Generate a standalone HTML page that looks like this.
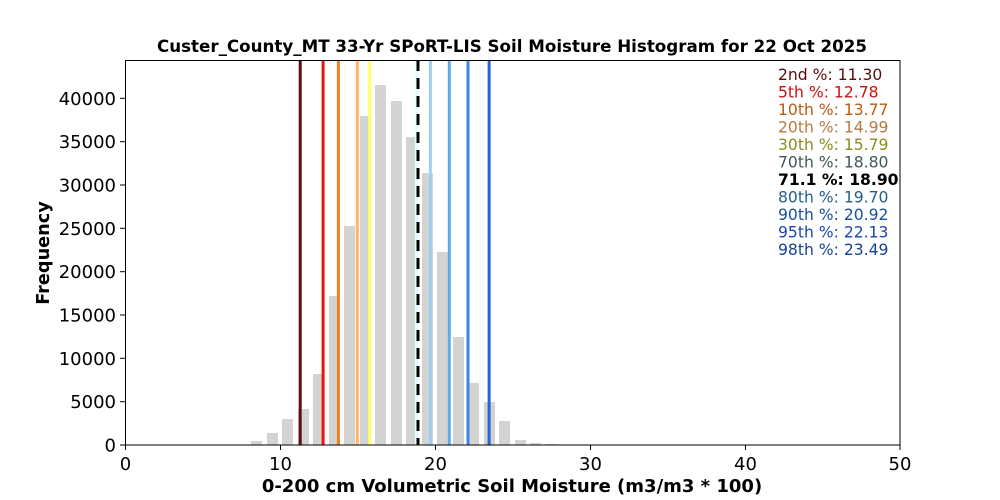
<!DOCTYPE html>
<html><head><meta charset="utf-8"><style>body{margin:0;background:#fff}svg{display:block}text{font-family:"DejaVu Sans","Liberation Sans",sans-serif}</style></head>
<body>
<svg width="1000" height="500" viewBox="0 0 1000 500" xmlns="http://www.w3.org/2000/svg">
<rect width="1000" height="500" fill="#fff"/>
<g fill="#d3d3d3">
<rect x="251" y="441" width="11" height="4"/>
<rect x="267" y="433" width="11" height="12"/>
<rect x="282" y="419" width="11" height="26"/>
<rect x="298" y="409" width="11" height="36"/>
<rect x="313" y="374" width="11" height="71"/>
<rect x="329" y="296" width="11" height="149"/>
<rect x="344" y="226" width="11" height="219"/>
<rect x="360" y="116" width="11" height="329"/>
<rect x="375" y="85" width="11" height="360"/>
<rect x="391" y="101" width="11" height="344"/>
<rect x="406" y="137" width="11" height="308"/>
<rect x="422" y="173" width="11" height="272"/>
<rect x="437" y="252" width="11" height="193"/>
<rect x="453" y="337" width="11" height="108"/>
<rect x="468" y="383" width="11" height="62"/>
<rect x="484" y="402" width="11" height="43"/>
<rect x="499" y="421" width="11" height="24"/>
<rect x="515" y="440" width="11" height="5"/>
<rect x="530" y="443" width="11" height="2"/>
<rect x="546" y="444" width="11" height="1"/>
</g>
<g stroke-width="3">
<line x1="300.2" y1="60" x2="300.2" y2="445" stroke="#5c0f0f"/>
<line x1="323.1" y1="60" x2="323.1" y2="445" stroke="#ee1111"/>
<line x1="338.4" y1="60" x2="338.4" y2="445" stroke="#f08020"/>
<line x1="357.3" y1="60" x2="357.3" y2="445" stroke="#ffb468"/>
<line x1="369.7" y1="60" x2="369.7" y2="445" stroke="#ffff66"/>
<line x1="416.4" y1="60" x2="416.4" y2="445" stroke="#e0ffff"/>
<line x1="430.4" y1="60" x2="430.4" y2="445" stroke="#a0d0f0"/>
<line x1="449.3" y1="60" x2="449.3" y2="445" stroke="#60aaf0"/>
<line x1="468.0" y1="60" x2="468.0" y2="445" stroke="#3a88e0"/>
<line x1="489.1" y1="60" x2="489.1" y2="445" stroke="#1e6ad0"/>
<line x1="418.0" y1="60" x2="418.0" y2="445" stroke="#000" stroke-dasharray="11,7"/>
</g>
<rect x="125.5" y="60.5" width="774.5" height="384.5" fill="none" stroke="#000" stroke-width="1"/>
<g stroke="#000" stroke-width="1">
<line x1="125.5" y1="445" x2="125.5" y2="450"/><line x1="280.5" y1="445" x2="280.5" y2="450"/><line x1="435.5" y1="445" x2="435.5" y2="450"/><line x1="590.5" y1="445" x2="590.5" y2="450"/><line x1="745.5" y1="445" x2="745.5" y2="450"/><line x1="900" y1="445" x2="900" y2="450"/>
<line x1="120" y1="445" x2="125" y2="445"/><line x1="120" y1="401.7" x2="125" y2="401.7"/><line x1="120" y1="358.3" x2="125" y2="358.3"/><line x1="120" y1="315" x2="125" y2="315"/><line x1="120" y1="271.7" x2="125" y2="271.7"/><line x1="120" y1="228.3" x2="125" y2="228.3"/><line x1="120" y1="185" x2="125" y2="185"/><line x1="120" y1="141.7" x2="125" y2="141.7"/><line x1="120" y1="98.3" x2="125" y2="98.3"/>
</g>
<g font-size="18" fill="#000" text-anchor="middle">
<text x="125.5" y="470">0</text><text x="280.5" y="470">10</text><text x="435.5" y="470">20</text><text x="590.5" y="470">30</text><text x="745.5" y="470">40</text><text x="900" y="470">50</text>
</g>
<g font-size="18" fill="#000" text-anchor="end">
<text x="116" y="451.5">0</text><text x="116" y="408.2">5000</text><text x="116" y="364.8">10000</text><text x="116" y="321.5">15000</text><text x="116" y="278.2">20000</text><text x="116" y="234.8">25000</text><text x="116" y="191.5">30000</text><text x="116" y="148.2">35000</text><text x="116" y="104.8">40000</text>
</g>
<text x="512" y="52" font-size="16.7" font-weight="bold" text-anchor="middle">Custer_County_MT 33-Yr SPoRT-LIS Soil Moisture Histogram for 22 Oct 2025</text>
<text x="512" y="492" font-size="18" font-weight="bold" text-anchor="middle">0-200 cm Volumetric Soil Moisture (m3/m3 * 100)</text>
<text x="49" y="253" font-size="17.7" font-weight="bold" text-anchor="middle" transform="rotate(-90 49 253)">Frequency</text>
<g font-size="15.6">
<text x="778" y="80" fill="#5a0c0c">2nd %: 11.30</text>
<text x="778" y="97.5" fill="#cc1010">5th %: 12.78</text>
<text x="778" y="115" fill="#b85a12">10th %: 13.77</text>
<text x="778" y="132.5" fill="#b87840">20th %: 14.99</text>
<text x="778" y="150" fill="#8c8c20">30th %: 15.79</text>
<text x="778" y="167.5" fill="#405858">70th %: 18.80</text>
<text x="778" y="185" fill="#000" font-weight="bold">71.1 %: 18.90</text>
<text x="778" y="202.5" fill="#245e8a">80th %: 19.70</text>
<text x="778" y="220" fill="#1850a0">90th %: 20.92</text>
<text x="778" y="237.5" fill="#1848a8">95th %: 22.13</text>
<text x="778" y="255" fill="#164298">98th %: 23.49</text>
</g>
</svg>
</body></html>
